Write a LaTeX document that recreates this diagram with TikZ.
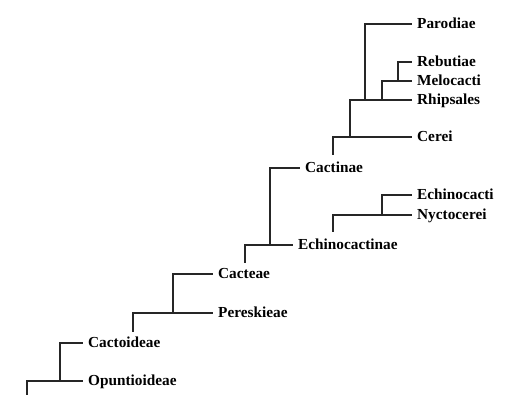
\documentclass[tikz,border=0pt]{standalone}
\usepackage{fontspec}
\setmainfont{Liberation Serif}
\usepackage{tikz}

\begin{document}
\begin{tikzpicture}[%
      x=1pt, y=-1pt,
      taxon/.style={anchor=west, inner xsep=5pt, inner ysep=0pt,
        text height=10pt, text depth=1pt,
        font=\fontsize{15.3}{18}\selectfont\bfseries},
      branch/.style={color=black!85, line width=1.1pt},
      ]
      \useasboundingbox (0,0) rectangle (507,395);

      \node[taxon] (parodiae) at (412,24) {Parodiae};
      \node[taxon] (rebutiae) at (412,62) {Rebutiae};
      \node[taxon] (melocacti) at (412,81) {Melocacti};
      \node[taxon] (rhipsales) at (412,100) {Rhipsales};
      \node[taxon] (cerei) at (412,137) {Cerei};
      \node[taxon] (cactinae) at (300,168) {Cactinae};
      \node[taxon] (echinocacti) at (412,195) {Echinocacti};
      \node[taxon] (nyctocerei) at (412,215) {Nyctocerei};
      \node[taxon] (echinocactinae) at (293,245) {Echinocactinae};
      \node[taxon] (cacteae) at (213,274) {Cacteae};
      \node[taxon] (pereskieae) at (213,313) {Pereskieae};
      \node[taxon] (cactoideae) at (83,343) {Cactoideae};
      \node[taxon] (opuntioideae) at (83,381) {Opuntioideae};

      \coordinate (root) at (27,395);
      \coordinate (j1) at (60,381);
      \coordinate (s1) at (133,332);
      \coordinate (j2) at (173,313);
      \coordinate (s2) at (245,263);
      \coordinate (j3) at (270,245);
      \coordinate (s3) at (333,155);
      \coordinate (j4) at (350,137);
      \coordinate (j5) at (365,100);
      \coordinate (j6) at (382,100);
      \coordinate (j7) at (398,81);
      \coordinate (s4) at (333,232);
      \coordinate (j8) at (382,215);

      \draw[branch] (root) |- (opuntioideae.west);
      \draw[branch] (j1) |- (cactoideae.west);
      \draw[branch] (s1) |- (pereskieae.west);
      \draw[branch] (j2) |- (cacteae.west);
      \draw[branch] (s2) |- (echinocactinae.west);
      \draw[branch] (j3) |- (cactinae.west);
      \draw[branch] (s3) |- (cerei.west);
      \draw[branch] (j4) |- (rhipsales.west);
      \draw[branch] (j5) |- (parodiae.west);
      \draw[branch] (j6) |- (melocacti.west);
      \draw[branch] (j7) |- (rebutiae.west);
      \draw[branch] (s4) |- (nyctocerei.west);
      \draw[branch] (j8) |- (echinocacti.west);
      \end{tikzpicture}
\end{document}
